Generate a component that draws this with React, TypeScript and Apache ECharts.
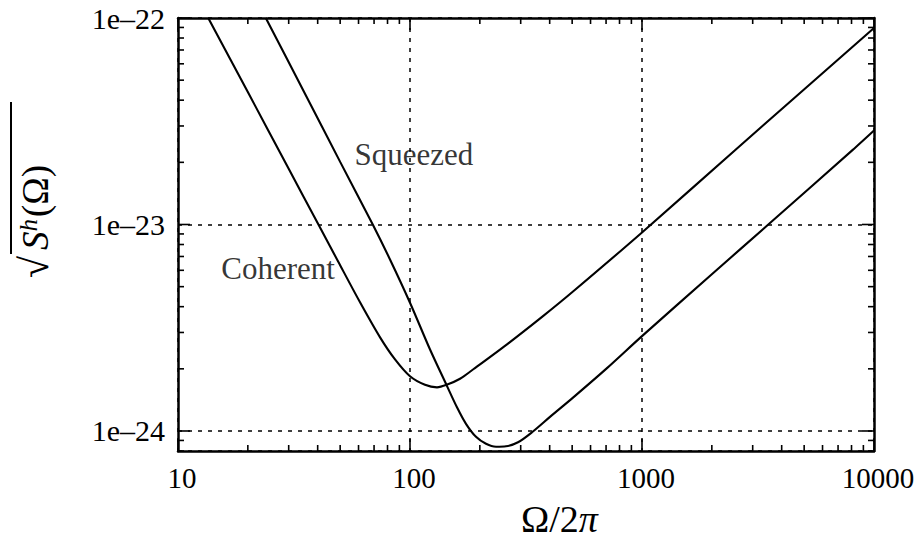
import React, { useEffect, useRef } from "react";
import * as echarts from "echarts";

const FONT = '"Liberation Serif", "DejaVu Serif", serif';

// Ω/2π and the noise amplitude √S^h(Ω) for the two input states
const coherentFreq = [
  13.5, 20, 30, 40.3, 49, 60.9, 74.3, 86.2, 100, 116, 130.7, 143.9, 164.3, 187.5, 261, 375.5, 505.7,
  1000, 2517, 10000,
];
const coherentNoise = [
  1.0e-22, 4.38e-23, 1.86e-23, 1.0e-23, 6.62e-24, 4.2e-24, 2.84e-24, 2.22e-24, 1.84e-24, 1.673e-24,
  1.627e-24, 1.673e-24, 1.79e-24, 1.99e-24, 2.62e-24, 3.61e-24, 4.75e-24, 9.15e-24, 2.29e-23, 8.95e-23,
];

const squeezedFreq = [
  23.9, 35, 50, 69.1, 82, 100, 122, 143.9, 159.4, 174.3, 192.5, 212.6, 234.9, 259.3, 292.2, 335.7,
  401.2, 505.7, 704.5, 1000, 2000, 3503, 8143, 10000,
];
const squeezedNoise = [
  1.0e-22, 4.37e-23, 2.01e-23, 1.0e-23, 6.77e-24, 4.18e-24, 2.48e-24, 1.664e-24, 1.302e-24, 1.083e-24,
  9.37e-25, 8.67e-25, 8.39e-25, 8.43e-25, 8.82e-25, 9.86e-25, 1.17e-24, 1.455e-24, 2.01e-24, 2.88e-24,
  5.74e-24, 1.0e-23, 2.31e-23, 2.85e-23,
];

// Curve annotations, placed in data coordinates
const curveLabels = [
  { name: "Coherent", f: 27, h: 6.1e-24 },
  { name: "Squeezed", f: 104, h: 2.18e-23 },
];

// Axis ranges and tick positions
const X_MIN = 10;
const X_MAX = 10000;
const H_MIN = 8e-25;
const H_MAX = 1e-22;
const xMajorTicks = [10, 100, 1000, 10000];
const hMajorTicks = [1e-24, 1e-23, 1e-22];
const xDecades = [10, 100, 1000];
const hDecades = [1e-25, 1e-24, 1e-23];
const minorSteps = [2, 3, 4, 5, 6, 7, 8, 9];

const MAJOR_LEN = 12;
const MINOR_LEN = 6;

// The value axis works in multiples of 1e-25 so the log scale keeps its precision
const UNIT_EXP = 25;
const toAxis = (h: number) => Number((h * Math.pow(10, UNIT_EXP)).toPrecision(12));

const Y_MIN = toAxis(H_MIN);
const Y_MAX = toAxis(H_MAX);

const xMinorTicks = xDecades.flatMap((d) => minorSteps.map((m) => m * d));
const yMajorTicks = hMajorTicks.map(toAxis);
const yMinorTicks = hDecades
  .flatMap((d) => minorSteps.map((m) => toAxis(m * d)))
  .filter((v) => v >= Y_MIN && v <= Y_MAX);

function tickLabel(v: number) {
  const e = Math.log10(v);
  if (Math.abs(e - Math.round(e)) > 1e-6) return "";
  return "1e\u2013" + String(UNIT_EXP - Math.round(e));
}

export default function App() {
  const ref = useRef<HTMLDivElement>(null);

  useEffect(() => {
    if (!ref.current) return;
    const chart = echarts.init(ref.current, undefined, { renderer: "svg" });

    const tickStyle = { stroke: "#000", lineWidth: 1.6 };
    const gridLine = { show: true, lineStyle: { color: "#000", width: 1.5, type: [4, 6] as any } };
    const frameLine = { show: true, onZero: false, lineStyle: { color: "#000", width: 2.5 } };

    const curve = (name: string, freq: number[], noise: number[]) => ({
      name,
      type: "line",
      xAxisIndex: 0,
      yAxisIndex: 0,
      data: freq.map((f, i) => [f, toAxis(noise[i])]),
      showSymbol: false,
      smooth: 0.3,
      lineStyle: { color: "#000", width: 2.1 },
      silent: true,
      z: 3,
    });

    const option: any = {
      animation: false,
      backgroundColor: "#fff",
      grid: { left: 178, top: 18, width: 696, height: 433, containLabel: false },
      xAxis: [
        {
          type: "log",
          logBase: 10,
          min: X_MIN,
          max: X_MAX,
          position: "bottom",
          axisLine: frameLine,
          axisTick: { show: false },
          splitLine: gridLine,
          axisLabel: {
            color: "#000",
            fontFamily: FONT,
            fontSize: 29,
            margin: 12,
            padding: [0, 0, 0, 8],
            formatter: (v: number) => String(Math.round(v)),
          },
        },
        {
          type: "log",
          logBase: 10,
          min: X_MIN,
          max: X_MAX,
          position: "top",
          axisLine: frameLine,
          axisTick: { show: false },
          axisLabel: { show: false },
          splitLine: { show: false },
        },
      ],
      yAxis: [
        {
          type: "log",
          logBase: 10,
          min: Y_MIN,
          max: Y_MAX,
          position: "left",
          axisLine: frameLine,
          axisTick: { show: false },
          splitLine: gridLine,
          axisLabel: {
            color: "#000",
            fontFamily: FONT,
            fontSize: 30,
            margin: 13,
            padding: [10, 0, 0, 0],
            formatter: tickLabel,
          },
        },
        {
          type: "log",
          logBase: 10,
          min: Y_MIN,
          max: Y_MAX,
          position: "right",
          axisLine: frameLine,
          axisTick: { show: false },
          axisLabel: { show: false },
          splitLine: { show: false },
        },
      ],
      series: [
        curve("Coherent", coherentFreq, coherentNoise),
        curve("Squeezed", squeezedFreq, squeezedNoise),
        {
          type: "scatter",
          xAxisIndex: 0,
          yAxisIndex: 0,
          symbolSize: 0,
          silent: true,
          data: curveLabels.map((c) => ({ name: c.name, value: [c.f, toAxis(c.h)] })),
          label: {
            show: true,
            position: "inside",
            formatter: "{b}",
            color: "#000",
            fontFamily: FONT,
            fontSize: 31,
          },
        },
        {
          // ticks on the bottom and top edges
          type: "custom",
          xAxisIndex: 0,
          yAxisIndex: 0,
          silent: true,
          clip: false,
          encode: { x: 0, y: 1 },
          data: [...xMajorTicks.map((v) => [v, Y_MIN, 1]), ...xMinorTicks.map((v) => [v, Y_MIN, 0])],
          renderItem: (_params: any, api: any) => {
            const v = api.value(0);
            const len = api.value(2) === 1 ? MAJOR_LEN : MINOR_LEN;
            const pb = api.coord([v, Y_MIN]);
            const pt = api.coord([v, Y_MAX]);
            return {
              type: "group",
              children: [
                { type: "line", shape: { x1: pb[0], y1: pb[1], x2: pb[0], y2: pb[1] - len }, style: tickStyle },
                { type: "line", shape: { x1: pt[0], y1: pt[1], x2: pt[0], y2: pt[1] + len }, style: tickStyle },
              ],
            };
          },
        },
        {
          // ticks on the left and right edges
          type: "custom",
          xAxisIndex: 0,
          yAxisIndex: 0,
          silent: true,
          clip: false,
          encode: { x: 0, y: 1 },
          data: [...yMajorTicks.map((v) => [X_MIN, v, 1]), ...yMinorTicks.map((v) => [X_MIN, v, 0])],
          renderItem: (_params: any, api: any) => {
            const v = api.value(1);
            const len = api.value(2) === 1 ? MAJOR_LEN : MINOR_LEN;
            const pl = api.coord([X_MIN, v]);
            const pr = api.coord([X_MAX, v]);
            return {
              type: "group",
              children: [
                { type: "line", shape: { x1: pl[0], y1: pl[1], x2: pl[0] + len, y2: pl[1] }, style: tickStyle },
                { type: "line", shape: { x1: pr[0], y1: pr[1], x2: pr[0] - len, y2: pr[1] }, style: tickStyle },
              ],
            };
          },
        },
      ],
      graphic: [
        {
          type: "text",
          left: 521,
          top: 500,
          style: {
            text: "{a|\u03A9/2}{b|\u03C0}",
            rich: {
              a: { fontFamily: FONT, fontSize: 38, fill: "#000" },
              b: { fontFamily: FONT, fontSize: 38, fontStyle: "italic", fill: "#000" },
            },
          },
        },
        {
          type: "group",
          x: 32,
          y: 188,
          rotation: Math.PI / 2,
          children: [
            {
              type: "text",
              x: -90,
              y: 2,
              style: { text: "\u221A", font: `40px ${FONT}`, fill: "#000", verticalAlign: "middle" },
            },
            {
              type: "text",
              x: -62,
              y: 3,
              style: {
                text: "{s|S}{h|h}{p|(\u03A9)}",
                verticalAlign: "middle",
                rich: {
                  s: { fontFamily: FONT, fontSize: 37, fontStyle: "italic", fill: "#000" },
                  h: { fontFamily: FONT, fontSize: 25, fontStyle: "italic", fill: "#000", verticalAlign: "top", padding: [0, 2, 14, 0] },
                  p: { fontFamily: FONT, fontSize: 37, fill: "#000" },
                },
              },
            },
            {
              type: "line",
              shape: { x1: -66, y1: -21, x2: 86, y2: -21 },
              style: { stroke: "#000", lineWidth: 2 },
            },
          ],
        },
      ],
    };

    chart.setOption(option);
    return () => chart.dispose();
  }, []);

  return (
    <div
      ref={ref}
      style={{ position: "fixed", left: 0, top: 0, width: 920, height: 540, background: "#fff" }}
    />
  );
}
